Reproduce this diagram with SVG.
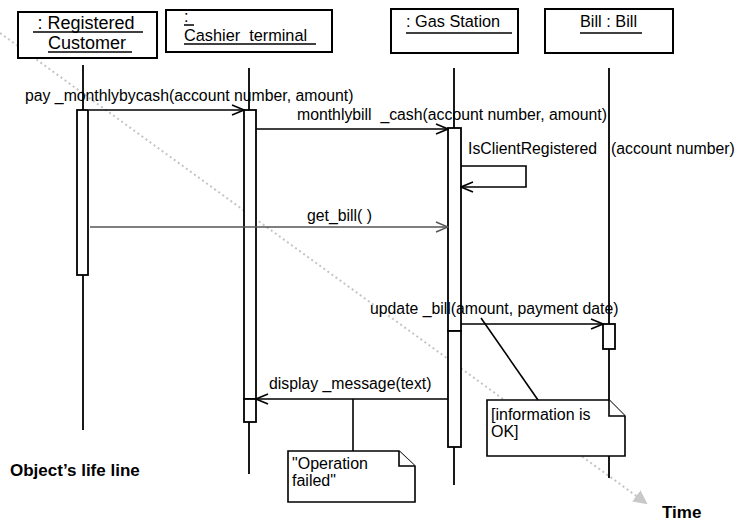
<svg xmlns="http://www.w3.org/2000/svg" width="736" height="521" viewBox="0 0 736 521">
<defs>
<marker id="open" viewBox="0 0 14 12" refX="13" refY="6" markerWidth="14" markerHeight="12" markerUnits="userSpaceOnUse" orient="auto">
<path d="M1,1 L13,6 L1,11" fill="none" stroke="#000" stroke-width="1.6"/>
</marker>
<marker id="opengray" viewBox="0 0 14 12" refX="13" refY="6" markerWidth="14" markerHeight="12" markerUnits="userSpaceOnUse" orient="auto">
<path d="M1,1 L13,6 L1,11" fill="none" stroke="#555" stroke-width="1.4"/>
</marker>
<marker id="tri" viewBox="0 0 14 14" refX="12" refY="7" markerWidth="14" markerHeight="14" markerUnits="userSpaceOnUse" orient="auto">
<path d="M0,0 L14,7 L0,14 Z" fill="#c8c8c8"/>
</marker>
</defs>
<style>
.box{fill:#fff;stroke:#000;stroke-width:2}
.life{stroke:#000;stroke-width:1.8;fill:none}
.bar{fill:#fff;stroke:#000;stroke-width:1.8}
.msg{stroke:#000;stroke-width:1.6;fill:none}
.ul{stroke:#000;stroke-width:1.5}
text{font-family:"Liberation Sans",Arial,sans-serif;fill:#000}
.t18{font-size:18px}
.t{font-size:16.3px}
.m{font-size:15.8px}
.n{font-size:16px}
.b{font-size:17px;font-weight:bold}
.note{fill:#fff;stroke:#000;stroke-width:1.6}
</style>
<rect width="736" height="521" fill="#fff"/>

<g id="timeline">
<line x1="0" y1="33" x2="646" y2="503" stroke="#c4c4c4" stroke-width="2" stroke-dasharray="2,3" marker-end="url(#tri)"/>
<text class="b" x="662" y="518">Time</text>
</g>

<g id="customer">
<rect class="box" x="18" y="12" width="139" height="46"/>
<text class="t18" x="86" y="29" text-anchor="middle">: Registered</text>
<line class="ul" x1="33" y1="32" x2="143" y2="32"/>
<text class="t18" x="87" y="49" text-anchor="middle">Customer</text>
<line class="ul" x1="48" y1="52" x2="132" y2="52"/>
<line class="life" x1="83" y1="65" x2="83" y2="430"/>
<rect class="bar" x="77" y="110" width="11" height="165"/>
</g>

<g id="cashier">
<rect class="box" x="166" y="10" width="166" height="42"/>
<text class="t" x="184" y="22">:</text>
<line class="ul" x1="184" y1="25" x2="194" y2="25"/>
<text class="t" x="184" y="41" xml:space="preserve">Cashier  terminal</text>
<line class="ul" x1="184" y1="44" x2="316" y2="44"/>
<line class="life" x1="249" y1="68" x2="249" y2="474"/>
<rect class="bar" x="244" y="110" width="12" height="289"/>
<rect class="bar" x="244" y="399" width="12" height="23"/>
</g>

<g id="gasstation">
<rect class="box" x="391" y="9" width="127" height="44"/>
<text class="t" x="406" y="27">: Gas Station</text>
<line class="ul" x1="406" y1="33" x2="512" y2="33"/>
<line class="life" x1="454" y1="68" x2="454" y2="485"/>
<rect class="bar" x="448" y="128" width="13" height="203"/>
<rect class="bar" x="448" y="331" width="13" height="116"/>
</g>

<g id="bill">
<rect class="box" x="545" y="9" width="128" height="44"/>
<text class="t" x="580" y="27">Bill : Bill</text>
<line class="ul" x1="580" y1="33" x2="642" y2="33"/>
<line class="life" x1="609" y1="68" x2="609" y2="478"/>
<rect class="bar" x="603" y="324" width="12" height="25"/>
</g>

<g id="note-failed">
<path class="note" d="M288,451 L399,451 L415,466 L415,502 L288,502 Z"/>
<path class="note" d="M399,451 L399,466 L415,466" fill="none"/>
<text class="n" x="292" y="469">"Operation</text>
<text class="n" x="292" y="486">failed"</text>
</g>

<g id="note-ok">
<path class="note" d="M487,400 L609,400 L625,416 L625,456 L487,456 Z"/>
<path class="note" d="M609,400 L609,416 L625,416" fill="none"/>
<text class="n" x="491" y="420">[information is</text>
<text class="n" x="491" y="437">OK]</text>
</g>

<g id="connectors">
<line class="msg" x1="89" y1="110" x2="244" y2="110" marker-end="url(#open)"/>
<text class="m" x="25" y="101">pay _monthlybycash(account number, amount)</text>

<line class="msg" x1="256" y1="129" x2="448" y2="129" marker-end="url(#open)"/>
<text class="m" x="297" y="120" xml:space="preserve">monthlybill  _cash(account number, amount)</text>

<path class="msg" d="M461,166 L526,166 L526,187 L461,187" marker-end="url(#open)"/>
<text class="m" x="468" y="154">IsClientRegistered</text>
<text class="m" x="611" y="154">(account number)</text>

<line x1="90" y1="227" x2="448" y2="227" stroke="#555" stroke-width="1.5" marker-end="url(#opengray)"/>
<text class="m" x="307" y="221">get_bill( )</text>

<line class="msg" x1="461" y1="324" x2="603" y2="324" marker-end="url(#open)"/>
<text class="m" x="370" y="314">update _bill(amount, payment date)</text>

<line class="msg" x1="448" y1="399" x2="256" y2="399" marker-end="url(#open)"/>
<text class="m" x="269" y="389">display _message(text)</text>

<line class="msg" x1="353" y1="399" x2="353" y2="451"/>
<line class="msg" x1="481" y1="318" x2="538" y2="400"/>
</g>

<text class="b" x="10" y="476">Object’s life line</text>
</svg>
